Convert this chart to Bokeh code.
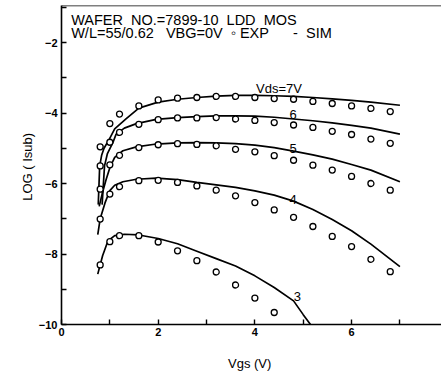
from bokeh.plotting import figure
from bokeh.models import FixedTicker, Range1d, Span, Label
from bokeh.embed import file_html
from bokeh.resources import INLINE

# ---- data ----
vgs_exp = [0.8, 1.0, 1.2, 1.6, 2.0, 2.4, 2.8, 3.2, 3.6, 4.0, 4.4, 4.8, 5.2, 5.6, 6.0, 6.4, 6.8]
exp_vds7 = [-4.96, -4.30, -4.03, -3.80, -3.63, -3.58, -3.56, -3.53, -3.53, -3.56, -3.59, -3.61, -3.67, -3.73, -3.80, -3.87, -3.96]
exp_vds6 = [-5.50, -4.83, -4.55, -4.32, -4.19, -4.14, -4.14, -4.13, -4.17, -4.21, -4.27, -4.34, -4.41, -4.52, -4.61, -4.74, -4.86]
exp_vds5 = [-6.16, -5.47, -5.20, -4.98, -4.90, -4.87, -4.89, -4.93, -5.03, -5.10, -5.21, -5.34, -5.48, -5.62, -5.80, -6.00, -6.19]
exp_vds4 = [-7.01, -6.30, -6.09, -5.92, -5.91, -5.97, -6.07, -6.19, -6.35, -6.54, -6.75, -6.96, -7.22, -7.50, -7.79, -8.15, -8.50]
vgs_exp3 = [0.8, 1.0, 1.2, 1.6, 2.0, 2.4, 2.8, 3.2, 3.6, 4.0, 4.4]
exp_vds3 = [-8.31, -7.65, -7.48, -7.48, -7.66, -7.91, -8.19, -8.51, -8.88, -9.25, -9.66]

sim7_x = [0.76, 0.79, 0.83, 0.88, 0.99, 1.10, 1.34, 1.60, 2.0, 2.4, 2.8, 3.2, 3.6, 4.0, 4.4, 4.8, 5.2, 5.6, 6.0, 6.4, 7.0]
sim7_y = [-6.6, -5.5, -5.2, -5.0, -4.74, -4.45, -4.16, -3.86, -3.69, -3.61, -3.56, -3.52, -3.50, -3.50, -3.51, -3.53, -3.56, -3.60, -3.64, -3.69, -3.78]
sim6_x = [0.84, 0.89, 0.95, 1.06, 1.13, 1.30, 1.55, 1.96, 2.4, 2.8, 3.2, 3.6, 4.0, 4.4, 4.8, 5.2, 5.6, 6.0, 6.4, 7.0]
sim6_y = [-6.6, -5.5, -5.15, -4.85, -4.60, -4.43, -4.30, -4.18, -4.13, -4.10, -4.08, -4.08, -4.09, -4.12, -4.17, -4.22, -4.28, -4.35, -4.43, -4.60]
sim5_x = [0.78, 0.84, 0.92, 1.0, 1.1, 1.27, 1.55, 1.96, 2.4, 2.8, 3.2, 3.6, 4.0, 4.4, 4.8, 5.2, 5.6, 6.0, 6.4, 7.0]
sim5_y = [-6.65, -6.3, -5.9, -5.55, -5.26, -5.07, -4.96, -4.88, -4.85, -4.84, -4.85, -4.87, -4.91, -4.98, -5.08, -5.19, -5.31, -5.46, -5.62, -5.95]
sim4_x = [0.75, 0.8, 0.9, 1.0, 1.1, 1.27, 1.55, 1.96, 2.4, 2.8, 3.2, 3.6, 4.0, 4.4, 4.8, 5.2, 5.6, 6.0, 6.4, 7.0]
sim4_y = [-7.45, -7.0, -6.55, -6.2, -6.05, -5.95, -5.88, -5.85, -5.89, -5.97, -6.04, -6.11, -6.21, -6.33, -6.50, -6.74, -7.02, -7.34, -7.72, -8.36]
sim3_x = [0.75, 0.85, 0.96, 1.1, 1.3, 1.6, 2.0, 2.4, 2.8, 3.2, 3.6, 4.0, 4.4, 4.8, 5.0, 5.15]
sim3_y = [-8.57, -8.05, -7.63, -7.48, -7.44, -7.46, -7.56, -7.71, -7.92, -8.13, -8.34, -8.62, -8.95, -9.33, -9.72, -10.0]

curve_labels = ["Vds=7V", "6", "5", "4", "3"]
x_major = [0, 2, 4, 6]
x_minor = [1, 3, 5, 7]
y_major = [-10, -8, -6, -4, -2]
y_minor = [-9, -7, -5, -3, -1]

NB = "\u00a0"
title1 = "WAFER" + NB * 2 + "NO.=7899-10" + NB * 2 + "LDD" + NB * 2 + "MOS"
title2 = "W/L=55/0.62" + NB * 3 + "VBG=0V" + NB * 2 + "\u25e6" + NB + "EXP" + NB * 6 + "-" + NB * 2 + "SIM"

p = figure(width=441, height=374, output_backend="svg", toolbar_location=None,
           x_range=Range1d(0, 7.86), y_range=Range1d(-10, -0.95),
           min_border_left=61, min_border_right=0, min_border_top=5, min_border_bottom=50)
p.outline_line_color = None
p.xgrid.visible = False
p.ygrid.visible = False
p.background_fill_color = "white"

FONT = "Liberation Sans"
for ax in (p.xaxis[0], p.yaxis[0]):
    ax.axis_line_color = "black"
    ax.axis_line_width = 1.6
    ax.major_tick_in = 5
    ax.major_tick_out = 0
    ax.minor_tick_in = 5
    ax.minor_tick_out = 0
    ax.major_tick_line_width = 1.4
    ax.minor_tick_line_width = 1.4
    ax.major_label_text_font = FONT
    ax.major_label_text_font_size = "11px"
    ax.major_label_text_font_style = "bold"
    ax.major_label_text_color = "black"
    ax.axis_label_text_font = FONT
    ax.axis_label_text_font_size = "13px"
    ax.axis_label_text_font_style = "normal"
    ax.axis_label_text_color = "black"

p.xaxis.ticker = FixedTicker(ticks=x_major, minor_ticks=x_minor)
p.yaxis.ticker = FixedTicker(ticks=y_major, minor_ticks=y_minor)
p.xaxis.major_label_standoff = 3
p.yaxis.major_label_standoff = 4
p.xaxis.axis_label = "Vgs  (V)"
p.yaxis.axis_label = "LOG  ( Isub)"
p.xaxis.axis_label_standoff = 17
p.yaxis.axis_label_standoff = 1

# top frame line (right side is open in the reference)
p.add_layout(Span(location=-0.95, dimension="width", line_color="black", line_width=1.6))

LW = 1.7
for xs, ys in [(sim7_x, sim7_y), (sim6_x, sim6_y), (sim5_x, sim5_y), (sim4_x, sim4_y), (sim3_x, sim3_y)]:
    p.line(xs, ys, line_color="black", line_width=LW)

for ys in [exp_vds7, exp_vds6, exp_vds5, exp_vds4]:
    p.scatter(vgs_exp, ys, marker="circle", size=6, fill_color="white", line_color="black", line_width=1.3)
p.scatter(vgs_exp3, exp_vds3, marker="circle", size=6, fill_color="white", line_color="black", line_width=1.3)

# curve labels
lab_pos = [(4.5, -3.30), (4.79, -4.03), (4.79, -5.0), (4.79, -6.44), (4.88, -9.2)]
for t, (lx, ly) in zip(curve_labels, lab_pos):
    p.add_layout(Label(x=lx, y=ly, text=t, text_font=FONT, text_font_size="13px",
                       text_align="center", text_baseline="middle", text_color="black"))

p.add_layout(Label(x=0.2, y=-1.36, text=title1, text_font=FONT,
                   text_font_size="14.5px", text_baseline="middle", text_color="black"))
p.add_layout(Label(x=0.2, y=-1.74, text=title2, text_font=FONT,
                   text_font_size="14.5px", text_baseline="middle", text_color="black"))

open("out.html", "w").write(file_html(p, INLINE))
